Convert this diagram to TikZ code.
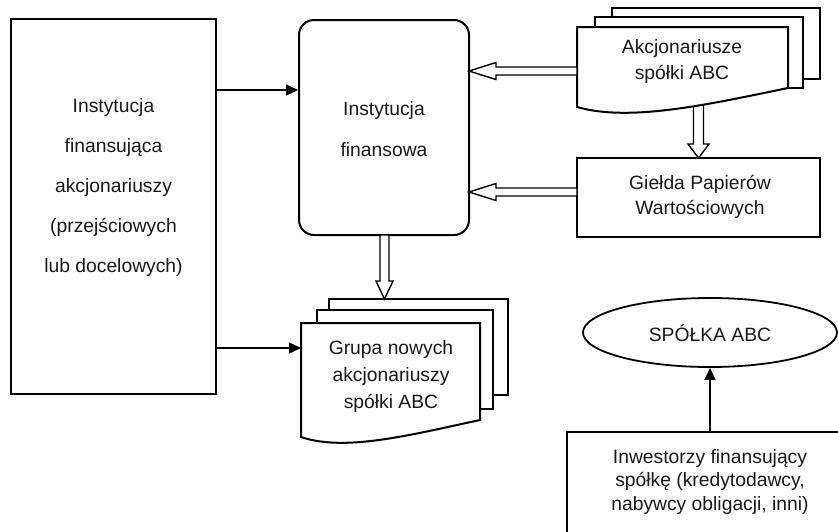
\documentclass[tikz,border=0pt]{standalone}
\usepackage{fontspec}
\setmainfont{Liberation Sans}
\usetikzlibrary{calc,arrows.meta,shapes.geometric}
\begin{document}
\begin{tikzpicture}[x=1pt,y=-1pt,
  box/.style={draw, line width=2pt, inner sep=0pt, fill=white},
  doc/.style={draw, line width=2pt, fill=white, line join=miter},
  txt/.style={font=\fontsize{19.3}{#1}\selectfont, align=center, inner sep=0pt, text=black!90},
  txt/.default=25,
  conn/.style={line width=1.5pt, -{Triangle[length=12pt,width=11pt]}},
  harrow/.style={line width=1.4pt, fill=white, line join=miter},
  hollow/.style n args={3}{
    to path={($(\tikztostart)!#1!-90:(\tikztotarget)$)
      -- ($(\tikztotarget)!#3!(\tikztostart)!#1!90:(\tikztostart)$)
      -- ($(\tikztotarget)!#3!(\tikztostart)!#2!90:(\tikztostart)$)
      -- (\tikztotarget)
      -- ($(\tikztotarget)!#3!(\tikztostart)!#2!-90:(\tikztostart)$)
      -- ($(\tikztotarget)!#3!(\tikztostart)!#1!-90:(\tikztostart)$)
      -- ($(\tikztostart)!#1!90:(\tikztotarget)$) -- cycle}}
]
\clip (0,0) rectangle (838,531);
\fill[white] (0,0) rectangle (838,531);

% left box
\node[box, minimum width=205pt, minimum height=375pt] (lbox) at (113.5,206.5) {};
\node[txt=40] (ltext) at (113.5,188) {Instytucja\\finansująca\\akcjonariuszy\\(przejściowych\\lub docelowych)};

% central rounded box
\node[box, rounded corners=15pt, minimum width=170pt, minimum height=215pt] (fin) at (384,127.5) {};
\node[txt=41] (fintext) at (384,129) {Instytucja\\finansowa};

% hollow arrow from shareholders to Giełda (drawn first, covered by document)
\coordinate (hd1s) at (698.5,100);
\coordinate (hd1e) at (698.5,158);
\draw[harrow] (hd1s) to[hollow={5pt}{10.5pt}{14pt}] (hd1e);

% top-right document stack
\draw[doc] (612,8) rectangle (820,79);
\draw[doc] (595,17) rectangle (803,88);
\draw[doc] (577,27) -- (788,27) -- (788,88) .. controls (706,105) and (629,122) .. (577,107) -- cycle;
\node[txt=26] (akc) at (682,62) {Akcjonariusze\\spółki ABC};

% Giełda box
\node[box, minimum width=243pt, minimum height=79pt] (gpw) at (698.5,197.5) {};
\node[txt=25] (gpwtext) at (700,197) {Giełda Papierów\\Wartościowych};

% bottom document stack
\draw[doc] (329,299) rectangle (508,395);
\draw[doc] (317,310) rectangle (493,409);
\draw[doc] (301,323) -- (480,323) -- (480,420) .. controls (410,435) and (345,452) .. (301,437) -- cycle;
\node[txt=27] (grupa) at (391,377) {Grupa nowych\\akcjonariuszy\\spółki ABC};

% ellipse
\node[draw, ellipse, line width=1.8pt, minimum width=254pt, minimum height=69pt, inner sep=0pt] (spolka) at (710,332.5) {};
\node[txt] (spolkatext) at (710,333) {SPÓŁKA ABC};

% bottom-right box (extends past the picture edge)
\node[box, minimum width=286pt, minimum height=116pt] (inv) at (710,490) {};
\node[txt=23.5] (invtext) at (710,482) {Inwestorzy finansujący\\spółkę (kredytodawcy,\\nabywcy obligacji, inni)};

% connector coordinates
\coordinate (y90) at (0,90);
\coordinate (y348) at (0,348);
\coordinate (gdocW) at (301,348);
\coordinate (ha1s) at (577,71);
\coordinate (ha1e) at (469,71);
\coordinate (ha2s) at (577,192);
\coordinate (ha2e) at (469,192);
\coordinate (hcs) at (384.5,235);
\coordinate (hce) at (384.5,299);

% connectors
\draw[conn] (lbox.east |- y90) -- (fin.west |- y90);
\draw[conn] (lbox.east |- y348) -- (gdocW);
\draw[conn] (inv.north) -- (spolka.south);
\draw[harrow] (ha1s) to[hollow={4pt}{8.5pt}{27pt}] (ha1e);
\draw[harrow] (ha2s) to[hollow={4pt}{8.5pt}{27pt}] (ha2e);
\draw[harrow] (hcs) to[hollow={4.5pt}{8.5pt}{18pt}] (hce);
\end{tikzpicture}
\end{document}
